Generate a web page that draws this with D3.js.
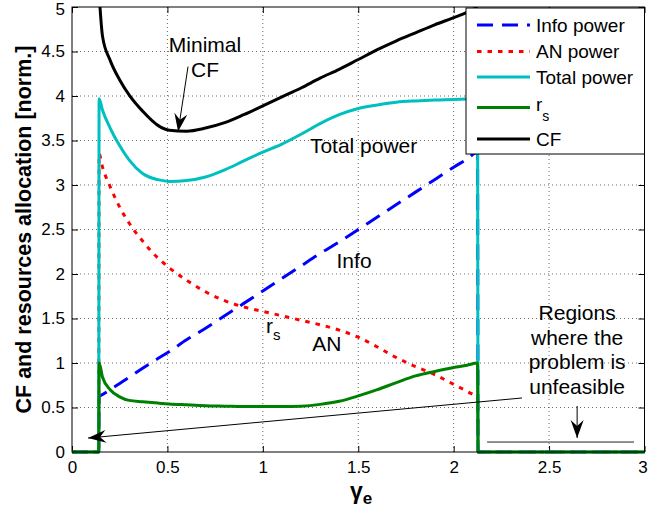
<!DOCTYPE html>
<html><head><meta charset="utf-8">
<script src="https://cdn.jsdelivr.net/npm/d3@7"></script>
<style>body{margin:0;background:#fff} svg{display:block;font-family:"Liberation Sans",Arial,Helvetica,sans-serif}</style>
</head><body>
<svg id="c" width="648" height="516"></svg>
<script>
// ---- data ----
const gamma      = [0, 0.14, 0.142, 0.16, 0.2, 0.25, 0.3, 0.37, 0.45, 0.51, 0.6, 0.7, 0.8, 0.9, 1.0, 1.1, 1.2, 1.3, 1.4, 1.5, 1.6, 1.7, 1.8, 1.9, 2.0, 2.07, 2.125, 2.128, 3.0];
const infoPower  = [0, 0, 0.62, 0.645, 0.70, 0.77, 0.84, 0.94, 1.05, 1.13, 1.26, 1.39, 1.53, 1.67, 1.81, 1.95, 2.09, 2.23, 2.36, 2.50, 2.64, 2.78, 2.92, 3.06, 3.20, 3.29, 3.37, 0, 0];
const anPower    = [0, 0, 3.35, 3.20, 2.98, 2.75, 2.57, 2.37, 2.18, 2.07, 1.93, 1.80, 1.70, 1.63, 1.58, 1.53, 1.48, 1.43, 1.37, 1.29, 1.18, 1.06, 0.96, 0.87, 0.76, 0.68, 0.60, 0, 0];
const totalPower = [0, 0, 3.97, 3.84, 3.64, 3.44, 3.28, 3.13, 3.06, 3.04, 3.05, 3.09, 3.17, 3.27, 3.37, 3.46, 3.57, 3.69, 3.79, 3.86, 3.90, 3.93, 3.945, 3.955, 3.96, 3.965, 3.97, 0, 0];
const rs         = [0, 0, 1.0, 0.84, 0.70, 0.62, 0.58, 0.565, 0.55, 0.54, 0.53, 0.52, 0.515, 0.51, 0.51, 0.51, 0.515, 0.535, 0.57, 0.63, 0.70, 0.78, 0.855, 0.905, 0.95, 0.975, 1.0, 0, 0];
const cf         = [null, null, 5.15, 4.67, 4.40, 4.18, 4.01, 3.83, 3.67, 3.615, 3.605, 3.64, 3.70, 3.79, 3.89, 3.99, 4.09, 4.20, 4.30, 4.41, 4.52, 4.62, 4.71, 4.80, 4.88, 4.94, 5.0, null, null];
const seriesNames = ["Info power", "AN power", "Total power", "r", "CF"];
const xTicks = [0, 0.5, 1, 1.5, 2, 2.5, 3];
const yTicks = [0, 0.5, 1, 1.5, 2, 2.5, 3, 3.5, 4, 4.5, 5];

// ---- styles ----
const seriesValues = [infoPower, anPower, totalPower, rs, cf];
const colors = ["#0000ff", "#ff0000", "#00bfbf", "#008000", "#000000"];
const dashes = ["16,9", "4.5,6", null, null, null];

const svg = d3.select("#c");
const L = 72, R = 644.5, T = 7, B = 452;
const x = d3.scaleLinear().domain([0, 3]).range([L, R]);
const y = d3.scaleLinear().domain([0, 5]).range([B, T]);

// grid
const grid = svg.append("g").attr("stroke", "#444").attr("stroke-width", 0.8).attr("stroke-dasharray", "1,3");
grid.selectAll("line.gx").data(xTicks.filter(t => t > 0 && t < 3)).join("line")
  .attr("x1", d => x(d)).attr("x2", d => x(d)).attr("y1", T).attr("y2", B);
grid.selectAll("line.gy").data(yTicks.filter(t => t > 0 && t < 5)).join("line")
  .attr("y1", d => y(d)).attr("y2", d => y(d)).attr("x1", L).attr("x2", R);

// axes
const fs = 17;
const ax = svg.append("g").attr("transform", `translate(0,${B})`)
  .call(d3.axisBottom(x).tickValues(xTicks).tickFormat(d3.format("")).tickSizeInner(-6).tickSizeOuter(0).tickPadding(9));
const ay = svg.append("g").attr("transform", `translate(${L},0)`)
  .call(d3.axisLeft(y).tickValues(yTicks).tickFormat(d3.format("")).tickSizeInner(-6).tickSizeOuter(0).tickPadding(7));
const at = svg.append("g").attr("transform", `translate(0,${T})`)
  .call(d3.axisTop(x).tickValues(xTicks).tickFormat("").tickSizeInner(-6).tickSizeOuter(0));
const ar = svg.append("g").attr("transform", `translate(${R},0)`)
  .call(d3.axisRight(y).tickValues(yTicks).tickFormat("").tickSizeInner(-6).tickSizeOuter(0));
[ax, ay, at, ar].forEach(g => {
  g.select(".domain").remove();
  g.selectAll("text").attr("font-size", fs).attr("font-family", '"Liberation Sans",Arial,sans-serif').attr("fill", "#000");
  g.selectAll("line").attr("stroke", "#000");
});
ax.selectAll(".tick").filter(d => d === 3).select("text").attr("dx", -2);
ay.selectAll(".tick").filter(d => d === 5).select("text").attr("dy", "0.45em");

// clip
svg.append("clipPath").attr("id", "clip").append("rect")
  .attr("x", L - 2).attr("y", T).attr("width", R - L + 4).attr("height", B - T + 2);

const line = d3.line().defined(d => d[1] != null).x(d => x(d[0])).y(d => y(d[1])).curve(d3.curveMonotoneX);
const plot = svg.append("g").attr("clip-path", "url(#clip)");
seriesValues.forEach((vals, i) => {
  plot.append("path").datum(gamma.map((g, k) => [g, vals[k]]))
    .attr("fill", "none").attr("stroke", colors[i]).attr("stroke-width", 3)
    .attr("stroke-dasharray", dashes[i]).attr("stroke-linejoin", "round")
    .attr("d", line);
});

// box
svg.append("rect").attr("x", L).attr("y", T).attr("width", R - L).attr("height", B - T)
  .attr("fill", "none").attr("stroke", "#000").attr("stroke-width", 1);

// arrow marker
const defs = svg.append("defs");
defs.append("marker").attr("id", "ah").attr("markerUnits", "userSpaceOnUse")
  .attr("viewBox", "-20 -9 22 18").attr("refX", 0).attr("refY", 0)
  .attr("markerWidth", 22).attr("markerHeight", 18).attr("orient", "auto")
  .append("path").attr("d", "M0,0 L-18,-6.5 L-12,0 L-18,6.5 Z").attr("fill", "#000");

const ann = svg.append("g");
function arrow(x1, y1, x2, y2) {
  ann.append("line").attr("x1", x(x1)).attr("y1", y(y1)).attr("x2", x(x2)).attr("y2", y(y2))
    .attr("stroke", "#000").attr("stroke-width", 1).attr("marker-end", "url(#ah)");
}
arrow(0.608, 4.33, 0.556, 3.60);
arrow(2.358, 0.607, 0.084, 0.157);
arrow(2.647, 0.517, 2.647, 0.157);
ann.append("line").attr("x1", x(2.175)).attr("x2", x(2.945)).attr("y1", y(0.112)).attr("y2", y(0.112))
  .attr("stroke", "#222").attr("stroke-width", 1);

const afs = 21;
function label(txt, gx, gy, anchor) {
  return ann.append("text").attr("x", x(gx)).attr("y", y(gy)).attr("font-size", afs)
    .attr("text-anchor", anchor || "middle").attr("fill", "#000").text(txt);
}
label("Minimal", 0.697, 4.49);
label("CF", 0.697, 4.21);
label("Total power", 1.528, 3.36);
label("Info", 1.478, 2.067);
label("AN", 1.336, 1.135);
const rl = label("r", 1.017, 1.337, "start");
rl.append("tspan").attr("dy", 7).attr("font-size", 15).text("s");
[["Regions", 1.483], ["where the", 1.202], ["problem is", 0.927], ["unfeasible", 0.652]]
  .forEach(([t, v]) => label(t, 2.647, v));

// legend
const lg = svg.append("g");
lg.append("rect").attr("x", 466).attr("y", 8).attr("width", R - 466).attr("height", 146)
  .attr("fill", "#fff").attr("stroke", "#000").attr("stroke-width", 1);
const ly = [25, 51.5, 77, 107.5, 139];
seriesNames.forEach((n, i) => {
  lg.append("line").attr("x1", 477).attr("x2", 530).attr("y1", ly[i]).attr("y2", ly[i])
    .attr("stroke", colors[i]).attr("stroke-width", 3).attr("stroke-dasharray", dashes[i]);
  const t = lg.append("text").attr("x", 536).attr("font-size", 19).attr("fill", "#000");
  if (i === 3) {
    t.attr("y", ly[i] + 3).text(n);
    t.append("tspan").attr("dy", 10).attr("font-size", 14).text("s");
  } else {
    t.attr("y", ly[i]).attr("dy", "0.36em").text(n);
  }
});

// axis titles
const xt = svg.append("text").attr("x", 350).attr("y", 499).attr("font-size", 23).attr("font-weight", "bold").attr("fill", "#000").text("γ");
xt.append("tspan").attr("dy", 5).attr("font-size", 17).text("e");
svg.append("text").attr("transform", `translate(31,${(T + B) / 2}) rotate(-90)`)
  .attr("text-anchor", "middle").attr("font-size", 21.5).attr("font-weight", "bold").attr("fill", "#000")
  .text("CF and resources allocation [norm.]");
</script>
</body></html>
